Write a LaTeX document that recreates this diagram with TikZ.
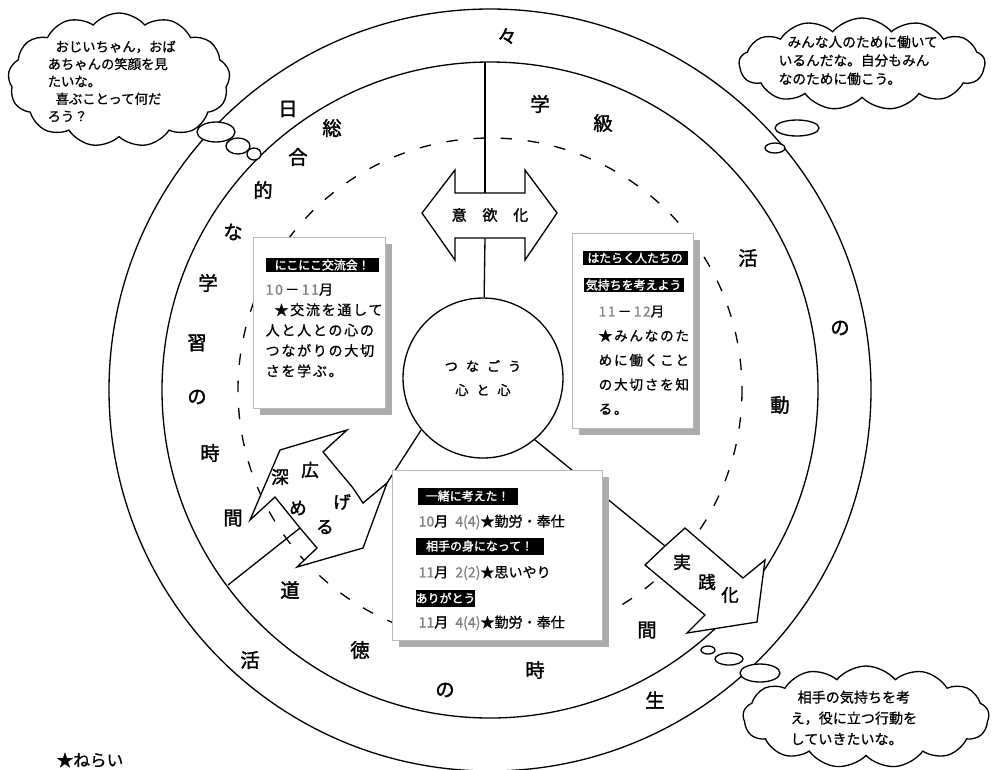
\documentclass[tikz,border=0pt]{standalone}
\usepackage{fontspec}
\setmainfont{Noto Sans CJK JP}
\newfontfamily\jpbold{Noto Sans CJK JP}[FakeBold=1.8]
\newfontfamily\jpmid{Noto Sans CJK JP}[FakeBold=0.8]
\newfontfamily\jpwide{Noto Sans CJK JP}[FakeBold=0.8,LetterSpace=12]
\newfontfamily\jpwidebold{Noto Sans CJK JP}[FakeBold=1.5,LetterSpace=60]
\usetikzlibrary{shapes.symbols, shadows, positioning}
\newcommand{\numgray}[1]{\textcolor{black!50}{#1}}

\begin{document}
\begin{tikzpicture}[x=0.02cm, y=-0.02cm, line width=0.75pt,
    ringchar/.style={font=\jpbold\fontsize{11}{11}\selectfont, inner sep=0pt},
    arrowchar/.style={font=\jpbold\fontsize{10}{10}\selectfont, inner sep=0pt},
    thought/.style={cloud, cloud puffs=13, cloud puff arc=100, cloud ignores aspect,
      draw, fill=white, inner sep=0pt},
    puff/.style={draw, fill=white},
    card/.style={draw=gray!55, fill=white, inner sep=0pt, line width=0.6pt, anchor=north west,
      drop shadow={shadow xshift=0.13cm, shadow yshift=-0.13cm, fill=gray!65, opacity=1}},
    tag/.style={fill=black, text=white, inner sep=0pt, minimum height=0.28cm, anchor=west,
      font=\jpbold\fontsize{6.8}{6.8}\selectfont},
    memo/.style={anchor=north west, inner sep=0pt, align=left},
    entry/.style={anchor=west, inner sep=0pt, font=\jpmid\fontsize{8}{8}\selectfont}]
  \useasboundingbox (0,0) rectangle (994,769);

  % three rings
  \draw (490,390) circle [radius=381];
  \draw (490,390) circle [radius=328];
  \draw[dash pattern=on 6.5pt off 9pt] (490,390) circle [radius=252];

  % joints of the sector lines
  \coordinate (midtop)    at (485,62);
  \coordinate (upnotch)   at (485,193);
  \coordinate (downnotch) at (485,238);
  \coordinate (leftjoin)  at (387,483);
  \coordinate (leftedge)  at (300,528);
  \coordinate (leftrim)   at (228,585);
  \coordinate (rightjoin) at (665,546);

  \node[circle, draw, fill=white, minimum size=3.2cm, inner sep=0pt, align=center,
        font=\jpwidebold\fontsize{7.5}{13.6}\selectfont] (core) at (483,378) {つなごう\\心と心};

  \draw (midtop) -- (upnotch);
  \draw (downnotch) -- (core);
  \draw (core.-140) -- (leftjoin);
  \draw (core.-50) -- (rightjoin);
  \draw (leftedge) -- (leftrim);

  % block arrows
  \draw[fill=white] (422,213) -- (455,170) -- (455,193) -- (upnotch) -- (525,193) -- (525,170)
    -- (557,213) -- (525,260) -- (525,238) -- (downnotch) -- (455,238) -- (455,260) -- cycle;
  \draw[fill=white] (250,520) -- (280,450) -- (347,430) -- (323,452) -- (353,488) -- (363,503)
    -- (leftjoin) -- (363,548) -- (297,567) -- (317,548) -- (leftedge) -- (275,497) -- cycle;
  \draw[fill=white] (645,565) -- (rightjoin) -- (685,528) -- (743,578) -- (765,560) -- (757,622)
    -- (687,633) -- (705,615) -- cycle;

  \node[font=\jpbold\fontsize{8.5}{8.5}\selectfont, inner sep=0pt] (will) at (490,215)
    {意\hspace{9pt}欲\hspace{9pt}化};
  \node[arrowchar] (fuka)  at (280,477) {深};
  \node[arrowchar] (hiro)  at (310,470) {広};
  \node[arrowchar] (me)    at (298,508) {め};
  \node[arrowchar] (ge)    at (342,502) {げ};
  \node[arrowchar] (ru)    at (325,527) {る};
  \node[arrowchar] (jitsu) at (682,562) {実};
  \node[arrowchar] (sen)   at (707,582) {践};
  \node[arrowchar] (ka)    at (730,595) {化};

  % outer ring
  \node[ringchar] (o1) at (288,109) {日};
  \node[ringchar] (o2) at (507,36)  {々};
  \node[ringchar] (o3) at (840,328) {の};
  \node[ringchar] (o4) at (655,700) {生};
  \node[ringchar] (o5) at (250,660) {活};
  % inner ring, left
  \node[ringchar] (s1) at (332,128) {総};
  \node[ringchar] (s2) at (298,157) {合};
  \node[ringchar] (s3) at (263,190) {的};
  \node[ringchar] (s4) at (233,232) {な};
  \node[ringchar] (s5) at (208,283) {学};
  \node[ringchar] (s6) at (197,343) {習};
  \node[ringchar] (s7) at (197,397) {の};
  \node[ringchar] (s8) at (210,453) {時};
  \node[ringchar] (s9) at (233,518) {間};
  % inner ring, right
  \node[ringchar] (g1) at (540,104) {学};
  \node[ringchar] (g2) at (603,123) {級};
  \node[ringchar] (g3) at (748,258) {活};
  \node[ringchar] (g4) at (780,405) {動};
  % inner ring, bottom
  \node[ringchar] (d1) at (290,590) {道};
  \node[ringchar] (d2) at (360,650) {徳};
  \node[ringchar] (d3) at (445,690) {の};
  \node[ringchar] (d4) at (535,670) {時};
  \node[ringchar] (d5) at (647,630) {間};

  % thought clouds
  \node[thought, minimum width=4.44cm, minimum height=2.68cm] (wishgrand) at (119,80) {};
  \node[thought, minimum width=4.92cm, minimum height=1.84cm] (wishwork)  at (862,64) {};
  \node[thought, minimum width=4.92cm, minimum height=2.04cm] (wishhelp)  at (866,717) {};
  \draw[puff] (216,132) ellipse [x radius=19, y radius=10];
  \draw[puff] (238,146) ellipse [x radius=12, y radius=8];
  \draw[puff] (254,154) ellipse [x radius=7, y radius=6];
  \draw[puff] (797,128) ellipse [x radius=22, y radius=8];
  \draw[puff] (775,148) ellipse [x radius=10, y radius=5];
  \draw[puff] (708,650) ellipse [x radius=7, y radius=4];
  \draw[puff] (729,659) ellipse [x radius=14, y radius=6];
  \draw[puff] (760,673) ellipse [x radius=20, y radius=9];
  \node[memo, font=\jpmid\fontsize{7.6}{9.9}\selectfont] (saygrand) at (47,40)
    {\hspace*{4.5pt}おじいちゃん，おば\\あちゃんの笑顔を見\\たいな。\\\hspace*{4.5pt}喜ぶことって何だ\\ろう？};
  \node[memo, font=\jpmid\fontsize{7.8}{10.5}\selectfont] (saywork) at (778,35)
    {\hspace*{5pt}みんな人のために働いて\\いるんだな。自分もみん\\なのために働こう。};
  \node[memo, font=\jpmid\fontsize{8}{11.9}\selectfont] (sayhelp) at (790,690)
    {\hspace*{4pt}相手の気持ちを考\\え，役に立つ行動を\\していきたいな。};

  % cards
  \node[card, minimum width=2.64cm, minimum height=3.42cm] (leftcard)  at (253,237) {};
  \node[card, minimum width=2.42cm, minimum height=3.9cm]  (rightcard) at (572,233) {};
  \node[card, minimum width=4.2cm,  minimum height=3.4cm]  (lowcard)   at (392,470) {};

  \node[tag, minimum width=2.26cm] (lefttag) at (265,265) {にこにこ交流会！};
  \node[memo, font=\jpwide\fontsize{8}{11.6}\selectfont] (lefttext) at (265,283)
    {\numgray{10}\,－\,\numgray{11}月\\\hspace*{5pt}★交流を通して\\人と人との心の\\つながりの大切\\さを学ぶ。};

  \node[tag, minimum width=2.1cm] (righttag1) at (582,258) {はたらく人たちの};
  \node[tag, minimum width=2.0cm] (righttag2) at (583,285) {気持ちを考えよう};
  \node[memo, font=\jpwide\fontsize{7.8}{13.9}\selectfont] (righttext) at (598,305)
    {\numgray{11}\,－\,\numgray{12}月\\★みんなのた\\めに働くこと\\の大切さを知\\る。};

  \node[tag, minimum width=2.0cm,  minimum height=0.34cm] (lowtag1) at (417,496) {一緒に考えた！};
  \node[entry] (lowline1) at (418,522) {\numgray{10}月\hspace{4pt}\numgray{4(4)}★勤労・奉仕};
  \node[tag, minimum width=2.56cm, minimum height=0.34cm] (lowtag2) at (415,546) {相手の身になって！};
  \node[entry] (lowline2) at (418,573) {\numgray{11}月\hspace{4pt}\numgray{2(2)}★思いやり};
  \node[tag, minimum width=1.14cm, minimum height=0.34cm] (lowtag3) at (415,598) {ありがとう};
  \node[entry] (lowline3) at (418,623) {\numgray{11}月\hspace{4pt}\numgray{4(4)}★勤労・奉仕};

  \node[font=\jpmid\fontsize{9.5}{9.5}\selectfont, inner sep=0pt] (aim) at (90,760) {★ねらい};
\end{tikzpicture}
\end{document}
